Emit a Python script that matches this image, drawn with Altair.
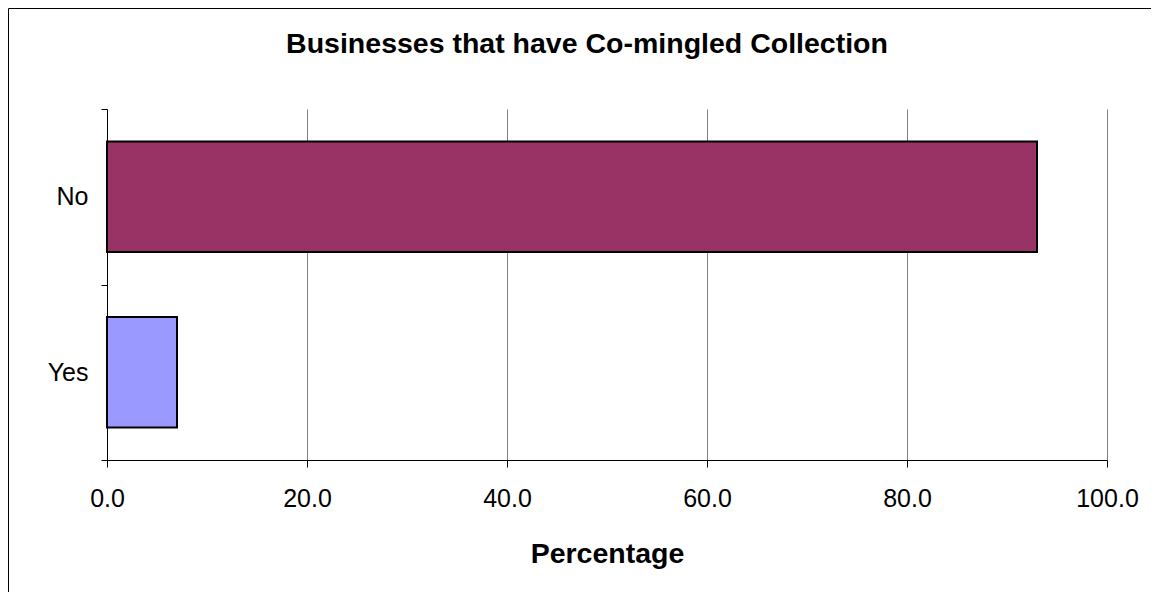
import altair as alt
import pandas as pd

categories = ["No", "Yes"]
values = [93.0, 7.0]
colors = ["#993366", "#9999FF"]
x_ticks = [0, 20, 40, 60, 80, 100]

df = pd.DataFrame({"Answer": categories, "Percentage": values})

FONT = "Liberation Sans"

bars = alt.Chart(df).mark_bar(
    stroke="black", strokeWidth=2, height={"band": 0.63}
).encode(
    x=alt.X(
        "Percentage:Q",
        scale=alt.Scale(domain=[0, 100], nice=False),
        axis=alt.Axis(
            values=x_ticks,
            format=".1f",
            title="Percentage",
            titleFont=FONT,
            titleFontSize=28.5,
            titleFontWeight="bold",
            titleColor="black",
            titlePadding=28,
            labelFont=FONT,
            labelFontSize=25,
            labelColor="black",
            labelPadding=19,
            tickSize=7,
            tickColor="black",
            domainColor="black",
            grid=True,
            gridColor="#808080",
            gridWidth=1,
            labelFlush=False,
        ),
    ),
    y=alt.Y(
        "Answer:N",
        sort=categories,
        scale=alt.Scale(paddingInner=0, paddingOuter=0),
        axis=alt.Axis(
            title=None,
            labelFont=FONT,
            labelFontSize=25,
            labelColor="black",
            labelPadding=13,
            tickSize=6,
            tickColor="black",
            tickBand="extent",
            domainColor="black",
            grid=False,
        ),
    ),
    color=alt.Color(
        "Answer:N",
        scale=alt.Scale(domain=categories, range=colors),
        legend=None,
    ),
)

border = alt.Chart(pd.DataFrame({"a": [0]})).mark_rect(
    fill=None, stroke="black", strokeWidth=1
).encode(
    x=alt.value(-98.5),
    x2=alt.value(1200),
    y=alt.value(-100.5),
    y2=alt.value(700),
)

chart = alt.layer(border, bars).properties(
    width=1000,
    height=351,
    background="white",
    padding={"left": 99, "top": 101, "right": 44, "bottom": 132},
    autosize=alt.AutoSizeParams(type="none"),
    title=alt.TitleParams(
        text="Businesses that have Co-mingled Collection",
        font=FONT,
        fontSize=28.5,
        fontWeight="bold",
        color="black",
        anchor="middle",
        dx=-20,
        baseline="alphabetic",
        offset=-73,
    ),
).configure_view(stroke="transparent", strokeWidth=0)

chart.save("out.html", embed_options={"renderer": "svg", "actions": False})
